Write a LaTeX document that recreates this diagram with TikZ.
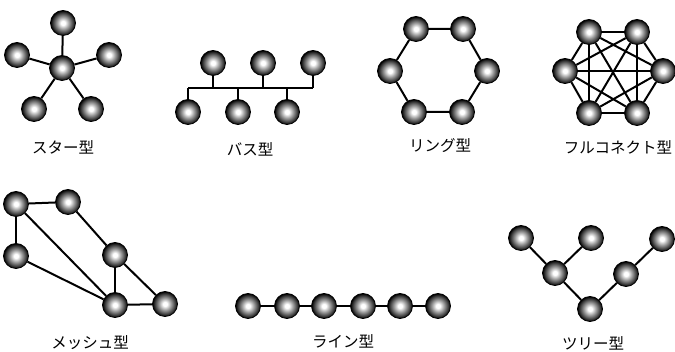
\documentclass[tikz,border=0pt]{standalone}
\usepackage{fontspec}
\newfontfamily\jp{Noto Sans CJK JP}
\pgfdeclareradialshading{ballshade}{\pgfpoint{0bp}{0bp}}{%
  color(0bp)=(white); color(4bp)=(white); color(12bp)=(black!38);
  color(20bp)=(black!75); color(25bp)=(black); color(50bp)=(black)}
\tikzset{
  ball/.style={circle, minimum size=25pt, inner sep=0pt, shading=ballshade, draw=black, line width=0.8pt},
  link/.style={line width=2pt, black},
  lbl/.style={font=\jp\fontsize{15.5}{15.5}\selectfont, inner sep=0pt}
}
\begin{document}
\begin{tikzpicture}[x=1pt,y=-1pt]
\useasboundingbox (0,0) rectangle (675,352);
% Star
\node[ball] (sc) at (62,68) {};
\node[ball] (s1) at (63,23) {};
\node[ball] (s2) at (17,55) {};
\node[ball] (s3) at (109,55) {};
\node[ball] (s4) at (34,109) {};
\node[ball] (s5) at (91,109) {};
\foreach \n in {s1,s2,s3,s4,s5} \draw[link] (sc) -- (\n);
\node[lbl] (lstar) at (63,147) {スター型};
% Bus
\node[ball] (bt1) at (213,63) {};
\node[ball] (bt2) at (263,63) {};
\node[ball] (bt3) at (313,63) {};
\node[ball] (bb1) at (188,112) {};
\node[ball] (bb2) at (238,112) {};
\node[ball] (bb3) at (287,112) {};
\coordinate (busL) at (188,88);
\coordinate (busR) at (313,88);
\draw[link] (busL) -- (busR);
\foreach \n in {bt1,bt2,bt3,bb1,bb2,bb3} \draw[link] (\n) -- (\n |- busL);
\node[lbl] (lbus) at (250,149) {バス型};
% Ring
\node[ball] (r1) at (416,29) {};
\node[ball] (r2) at (463,29) {};
\node[ball] (r3) at (487,71) {};
\node[ball] (r4) at (462,112) {};
\node[ball] (r5) at (414,112) {};
\node[ball] (r6) at (390,71) {};
\draw[link] (r1) -- (r2) -- (r3) -- (r4) -- (r5) -- (r6) -- (r1);
\node[lbl] (lring) at (440,146) {リング型};
% Full connect
\node[ball] (f1) at (589,32) {};
\node[ball] (f2) at (637,32) {};
\node[ball] (f3) at (663,71) {};
\node[ball] (f4) at (637,113) {};
\node[ball] (f5) at (589,113) {};
\node[ball] (f6) at (565,71) {};
\foreach \a/\b in {f1/f2,f1/f3,f1/f4,f1/f5,f1/f6,f2/f3,f2/f4,f2/f5,f2/f6,f3/f4,f3/f5,f3/f6,f4/f5,f4/f6,f5/f6}
  \draw[link] (\a) -- (\b);
\node[lbl] (lfull) at (618,147) {フルコネクト型};
% Mesh
\node[ball] (mA) at (16,204) {};
\node[ball] (mB) at (68,202) {};
\node[ball] (mC) at (16,256) {};
\node[ball] (mD) at (115,255) {};
\node[ball] (mE) at (115,305) {};
\node[ball] (mF) at (165,304) {};
\foreach \a/\b in {mA/mB,mA/mC,mA/mE,mC/mE,mB/mD,mD/mE,mD/mF,mE/mF}
  \draw[link] (\a) -- (\b);
\node[lbl] (lmesh) at (90,343) {メッシュ型};
% Line
\node[ball] (l1) at (248,306) {};
\node[ball] (l2) at (287,306) {};
\node[ball] (l3) at (324,306) {};
\node[ball] (l4) at (363,306) {};
\node[ball] (l5) at (400,306) {};
\node[ball] (l6) at (438,306) {};
\draw[link] (l1) -- (l2) -- (l3) -- (l4) -- (l5) -- (l6);
\node[lbl] (lline) at (343,341) {ライン型};
% Tree
\node[ball] (ta) at (521,238) {};
\node[ball] (tb) at (591,238) {};
\node[ball] (tc) at (555,273) {};
\node[ball] (td) at (590,309) {};
\node[ball] (te) at (626,274) {};
\node[ball] (tf) at (662,239) {};
\foreach \a/\b in {ta/tc,tb/tc,tc/td,td/te,te/tf}
  \draw[link] (\a) -- (\b);
\node[lbl] (ltree) at (593,343) {ツリー型};
\end{tikzpicture}
\end{document}
